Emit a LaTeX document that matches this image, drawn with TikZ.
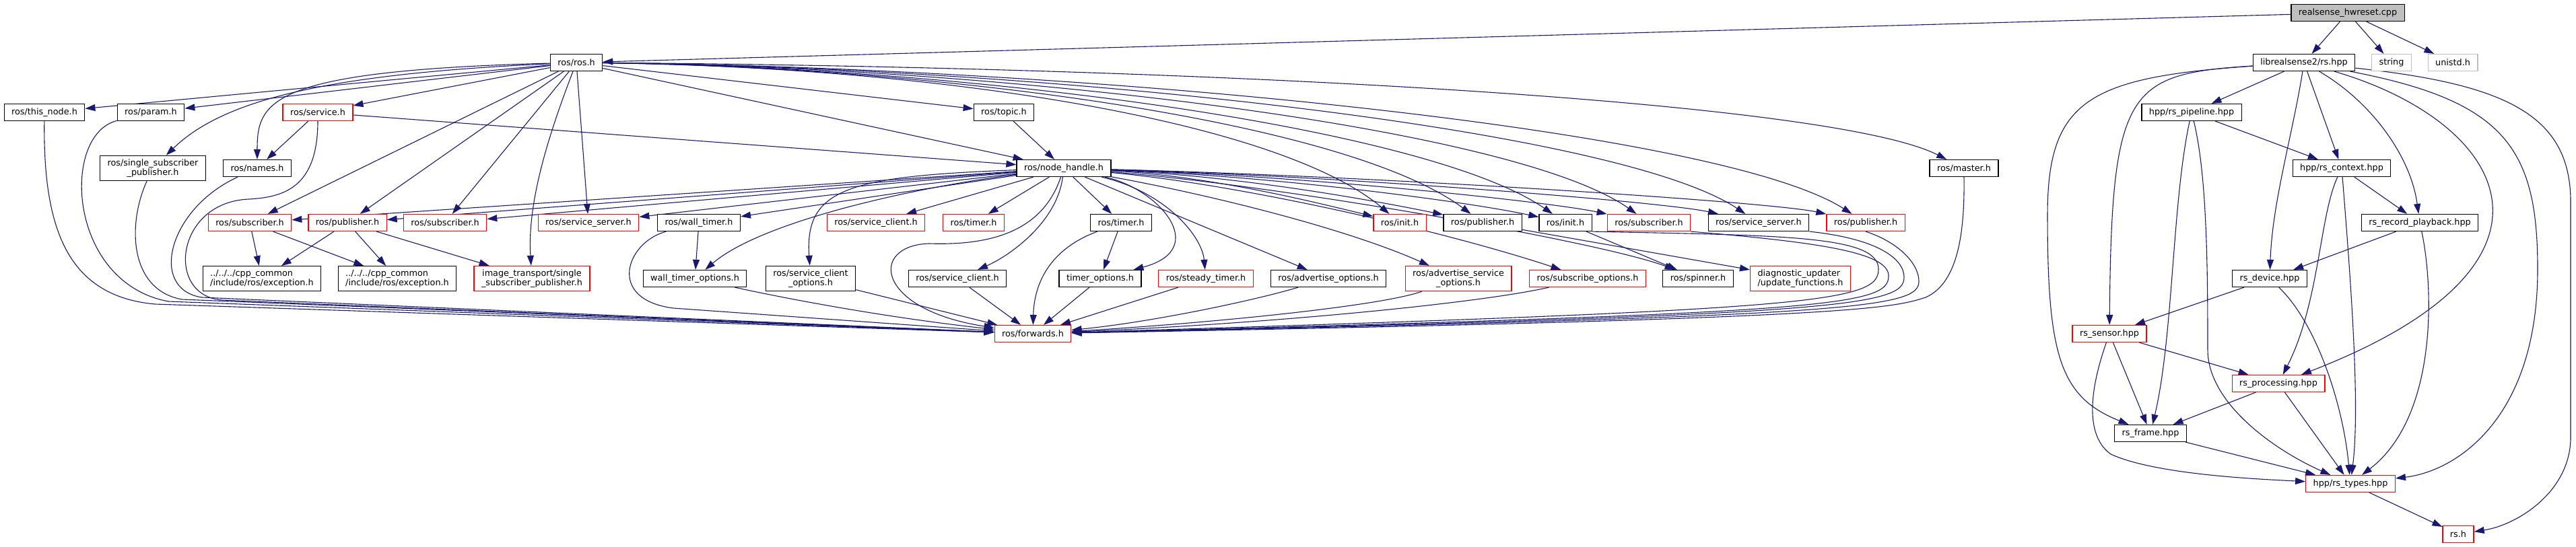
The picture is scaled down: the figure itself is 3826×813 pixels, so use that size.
\documentclass[tikz,border=0pt]{standalone}
\usepackage{fontspec}
\setmainfont{DejaVu Sans}
\usetikzlibrary{arrows.meta,backgrounds}
\definecolor{edgeblue}{HTML}{191970}
\definecolor{rootgrey}{HTML}{BFBFBF}

\begin{document}
\begin{tikzpicture}[x=1pt,y=-1pt,
  file/.style={draw=black,line width=1.2pt,fill=white,inner xsep=11pt,inner ysep=5pt,minimum height=25pt,align=center,font=\fontsize{12.8}{14.5}\selectfont},
  trunc/.style={file,draw=red},
  sys/.style={file,draw=rootgrey},
  edge/.style={edgeblue,line width=1.1pt,-{Triangle[length=15pt,width=10pt]}}]
\useasboundingbox (0,0) rectangle (3826,813);

\node[file,fill=rootgrey] (root) at (3487,19) {realsense\_hwreset.cpp};
\node[file] (rosros) at (856,93) {ros/ros.h};
\node[file] (rshpp) at (3422,93) {librealsense2/rs.hpp};
\node[sys] (str) at (3552,93) {string};
\node[sys] (unistd) at (3643,93) {unistd.h};

\node[file] (thisnode) at (66,167) {ros/this\_node.h};
\node[file] (param) at (224,167) {ros/param.h};
\node[trunc] (service) at (472,167) {ros/service.h};
\node[file] (topic) at (1491,167) {ros/topic.h};
\node[file] (pipeline) at (3255,167) {hpp/rs\_pipeline.hpp};

\node[file] (ssp) at (227,250) {ros/single\_subscriber\\\_publisher.h};
\node[file] (names) at (382,250) {ros/names.h};
\node[file] (nodehandle) at (1580,250) {ros/node\_handle.h};
\node[file] (master) at (2917,250) {ros/master.h};
\node[file] (context) at (3478,250) {hpp/rs\_context.hpp};

\node[trunc] (subA) at (371,331) {ros/subscriber.h};
\node[trunc] (pubA) at (516,331) {ros/publisher.h};
\node[trunc] (subB) at (661,331) {ros/subscriber.h};
\node[trunc] (srvA) at (874,331) {ros/service\_server.h};
\node[file] (walltimer) at (1038,331) {ros/wall\_timer.h};
\node[trunc] (scred) at (1301,331) {ros/service\_client.h};
\node[trunc] (timerred) at (1446,331) {ros/timer.h};
\node[file] (timer) at (1665,331) {ros/timer.h};
\node[trunc] (initred) at (2079,331) {ros/init.h};
\node[file] (pubB) at (2202,331) {ros/publisher.h};
\node[file] (initB) at (2325,331) {ros/init.h};
\node[trunc] (subC) at (2449,331) {ros/subscriber.h};
\node[file] (srvB) at (2612,331) {ros/service\_server.h};
\node[trunc] (pubC) at (2771,331) {ros/publisher.h};
\node[file] (playback) at (3594,331) {rs\_record\_playback.hpp};

\node[file,align=left] (excA) at (389,414) {../../../cpp\_common\\/include/ros/exception.h};
\node[file,align=left] (excB) at (590,414) {../../../cpp\_common\\/include/ros/exception.h};
\node[trunc] (itssp) at (790,414) {image\_transport/single\\\_subscriber\_publisher.h};
\node[file] (walltimeropt) at (1032,414) {wall\_timer\_options.h};
\node[file] (svcclientopt) at (1204,414) {ros/service\_client\\\_options.h};
\node[file] (svcclient) at (1422,414) {ros/service\_client.h};
\node[file] (timeropt) at (1634,414) {timer\_options.h};
\node[trunc] (steady) at (1791,414) {ros/steady\_timer.h};
\node[file] (advopt) at (1973,414) {ros/advertise\_options.h};
\node[trunc] (advsrv) at (2166,414) {ros/advertise\_service\\\_options.h};
\node[trunc] (subopt) at (2358,414) {ros/subscribe\_options.h};
\node[file] (spinner) at (2522,414) {ros/spinner.h};
\node[trunc,align=left] (diag) at (2674,414) {diagnostic\_updater\\/update\_functions.h};
\node[file] (device) at (3371,414) {rs\_device.hpp};

\node[trunc] (fwd) at (1534,496) {ros/forwards.h};
\node[trunc] (sensor) at (3133,496) {rs\_sensor.hpp};
\node[trunc] (processing) at (3384,570) {rs\_processing.hpp};
\node[file] (frame) at (3194,644) {rs\_frame.hpp};
\node[trunc] (types) at (3491,719) {hpp/rs\_types.hpp};
\node[trunc] (rsh) at (3651,794) {rs.h};

\begin{pgfonlayer}{background}
\foreach \a/\b in {root/rosros, root/rshpp, root/str, root/unistd,
  rosros/thisnode, rosros/param, rosros/service, rosros/subA, rosros/pubA,
  rosros/subB, rosros/srvA, rosros/topic, rosros/nodehandle,
  service/names, service/nodehandle, topic/nodehandle,
  subA/excA, subA/excB, pubA/excA, pubA/excB, pubA/itssp,
  walltimer/walltimeropt, timer/timeropt, initB/spinner, pubB/diag,
  nodehandle/subA, nodehandle/pubA, nodehandle/subB, nodehandle/srvA,
  nodehandle/walltimer, nodehandle/scred, nodehandle/timerred, nodehandle/timer,
  nodehandle/advopt, svcclientopt/fwd, svcclient/fwd, timeropt/fwd, steady/fwd,
  rshpp/pipeline, rshpp/context, pipeline/context, context/playback,
  playback/device, device/sensor, sensor/processing, sensor/frame,
  processing/frame, processing/types, frame/types, types/rsh}
  \draw[edge] (\a) -- (\b);

\draw[edge] (rosros) .. controls (400,105) and (382,150) .. (names);
\draw[edge] (rosros) .. controls (480,110) and (330,150) .. (ssp);
\draw[edge] (rosros) .. controls (815,200) and (783,300) .. (itssp);
\draw[edge] (rosros) .. controls (1400,100) and (1900,180) .. (initred);
\draw[edge] (rosros) .. controls (1400,100) and (2000,180) .. (pubB);
\draw[edge] (rosros) .. controls (1450,100) and (2120,190) .. (initB);
\draw[edge] (rosros) .. controls (1500,100) and (2250,190) .. (subC);
\draw[edge] (rosros) .. controls (1550,100) and (2400,190) .. (srvB);
\draw[edge] (rosros) .. controls (1600,100) and (2550,190) .. (pubC);
\draw[edge] (rosros) .. controls (1800,100) and (2720,150) .. (master);

\draw[edge] (nodehandle) .. controls (1350,280) and (1130,330) .. (walltimeropt);
\draw[edge] (nodehandle) .. controls (1260,262) and (1195,280) .. (svcclientopt);
\draw[edge] (nodehandle) .. controls (1570,330) and (1500,380) .. (svcclient);
\draw[edge] (nodehandle) .. controls (1720,280) and (1800,370) .. (timeropt);
\draw[edge] (nodehandle) .. controls (1730,285) and (1785,350) .. (steady);
\draw[edge] (nodehandle) .. controls (1800,290) and (2000,340) .. (advsrv);
\draw[edge] (nodehandle) .. controls (1850,275) and (2150,345) .. (subopt);
\draw[edge] (nodehandle) .. controls (1900,275) and (2380,360) .. (spinner);
\draw[edge] (nodehandle) .. controls (1800,262) and (1950,300) .. (initred);
\draw[edge] (nodehandle) .. controls (1850,262) and (2050,300) .. (pubB);
\draw[edge] (nodehandle) .. controls (1900,262) and (2180,300) .. (initB);
\draw[edge] (nodehandle) .. controls (1950,262) and (2300,300) .. (subC);
\draw[edge] (nodehandle) .. controls (2000,262) and (2470,300) .. (srvB);
\draw[edge] (nodehandle) .. controls (2050,262) and (2630,300) .. (pubC);

\draw[edge] (thisnode) .. controls (64,340) and (100,440) .. (230,452) -- (fwd);
\draw[edge] (param) .. controls (90,200) and (100,420) .. (250,448) -- (fwd);
\draw[edge] (ssp) .. controls (190,330) and (190,430) .. (270,445) -- (fwd);
\draw[edge] (names) .. controls (250,310) and (220,430) .. (300,442) -- (fwd);
\draw[edge] (service) .. controls (472,280) and (420,293) .. (370,296) .. controls (260,300) and (245,440) .. (330,446) -- (fwd);
\draw[edge] (walltimer) .. controls (930,360) and (900,445) .. (1000,458) -- (fwd);
\draw[edge] (walltimeropt) .. controls (1150,440) and (1300,470) .. (fwd);
\draw[edge] (nodehandle) .. controls (1548,345) and (1470,365) .. (1380,362) .. controls (1290,365) and (1300,460) .. (fwd);
\draw[edge] (timer) .. controls (1560,370) and (1536,420) .. (fwd);
\draw[edge] (advopt) .. controls (1850,450) and (1700,480) .. (fwd);
\draw[edge] (advsrv) .. controls (2050,455) and (1800,480) .. (fwd);
\draw[edge] (subopt) .. controls (2200,450) and (1900,480) .. (fwd);
\draw[edge] (initB.south east) .. controls (2650,350) and (2790,350) .. (2790,400) .. controls (2790,450) and (2700,460) .. (fwd);
\draw[edge] (subC.south east) .. controls (2700,360) and (2805,375) .. (2805,410) .. controls (2805,455) and (2720,465) .. (fwd);
\draw[edge] (srvB.south east) .. controls (2790,355) and (2828,385) .. (2828,412) .. controls (2828,455) and (2740,468) .. (fwd);
\draw[edge] (pubC.south) .. controls (2820,360) and (2850,392) .. (2850,418) .. controls (2850,458) and (2760,470) .. (fwd);
\draw[edge] (master.south) .. controls (2918,340) and (2910,420) .. (2860,442) .. controls (2810,458) and (2760,474) .. (fwd);

\draw[edge] (rshpp) .. controls (3160,110) and (3136,130) .. (sensor);
\draw[edge] (rshpp) .. controls (3100,115) and (3041,150) .. (3041,320) .. controls (3041,530) and (3060,590) .. (frame);
\draw[edge] (rshpp) .. controls (3405,200) and (3375,300) .. (device);
\draw[edge] (rshpp) .. controls (3520,150) and (3580,230) .. (playback);
\draw[edge] (rshpp) .. controls (3720,180) and (3850,390) .. (processing);
\draw[edge] (rshpp) .. controls (3720,150) and (3769,220) .. (3769,400) .. controls (3769,620) and (3650,700) .. (types);
\draw[edge] (rshpp) .. controls (3720,125) and (3818,170) .. (3818,300) -- (3818,650) .. controls (3818,730) and (3740,780) .. (rsh);
\draw[edge] (pipeline) .. controls (3226,300) and (3228,500) .. (frame);
\draw[edge] (pipeline) .. controls (3278,260) and (3279,400) .. (3279,520) .. controls (3279,600) and (3380,670) .. (types);
\draw[edge] (context) .. controls (3445,320) and (3445,450) .. (processing);
\draw[edge] (context) .. controls (3490,400) and (3506,600) .. (types);
\draw[edge] (playback) .. controls (3615,430) and (3620,620) .. (types);
\draw[edge] (device) .. controls (3440,480) and (3480,600) .. (types);
\draw[edge] (sensor) .. controls (3100,590) and (3100,650) .. (3135,675) .. controls (3200,705) and (3350,712) .. (types);
\end{pgfonlayer}
\end{tikzpicture}
\end{document}
